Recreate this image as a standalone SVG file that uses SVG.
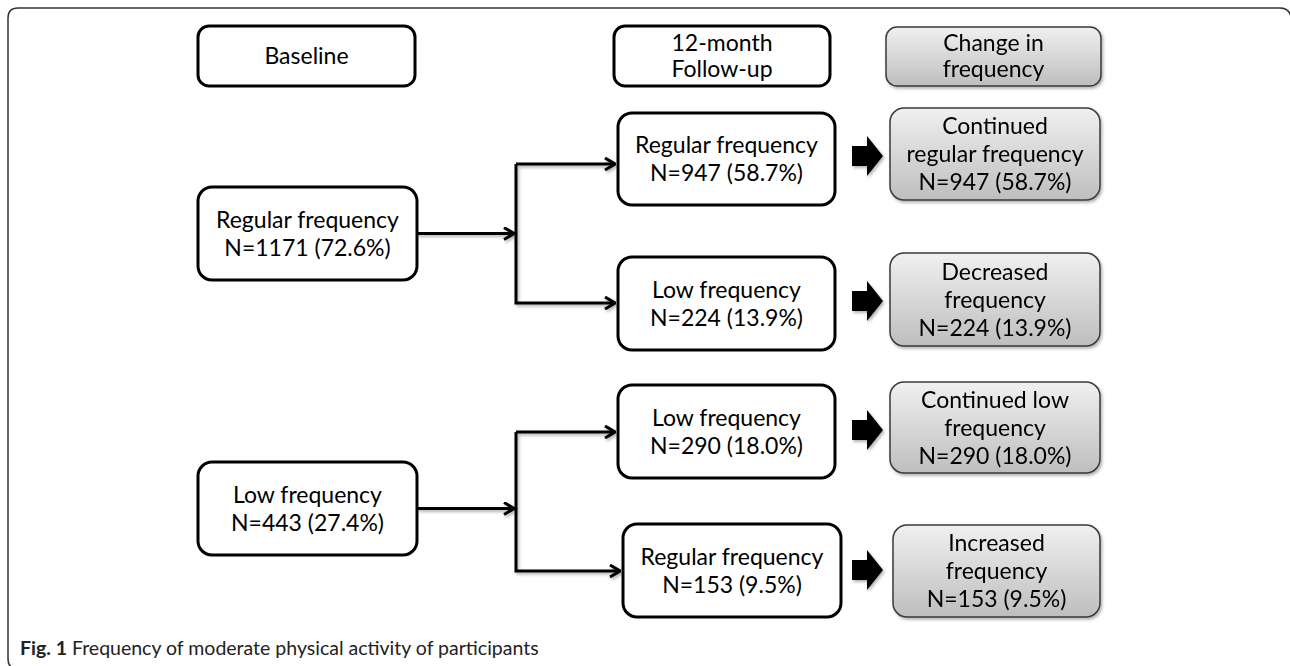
<svg xmlns="http://www.w3.org/2000/svg" width="1290" height="666" viewBox="0 0 1290 666">
<defs>
<linearGradient id="gray" x1="0" y1="0" x2="0" y2="1">
<stop offset="0" stop-color="#f0f0f0"/>
<stop offset="1" stop-color="#bebebe"/>
</linearGradient>
<filter id="sh" x="-10%" y="-10%" width="130%" height="140%">
<feDropShadow dx="1.5" dy="2" stdDeviation="1.5" flood-color="#000" flood-opacity="0.3"/>
</filter>
<marker id="ah" viewBox="0 0 12 14" refX="11" refY="7" markerWidth="12" markerHeight="14" markerUnits="userSpaceOnUse" orient="auto">
<path d="M1,1 L11,7 L1,13" fill="none" stroke="#000" stroke-width="3"/>
</marker>
</defs>
<style>
.frame{fill:none;stroke:#333;stroke-width:1.5}
.wb{fill:#fff;stroke:#000;stroke-width:3}
.gb{fill:url(#gray);stroke:#3a3a3a;stroke-width:1.5}
.t{font-family:Lato,"Open Sans",sans-serif;font-size:23px;fill:#000;text-anchor:middle}
.ln{fill:none;stroke:#000;stroke-width:3}
.blk{fill:#000}
.cap{font-family:Lato,"Liberation Sans",sans-serif;font-size:19.5px;fill:#222}
</style>
<rect width="1290" height="666" fill="#fff"/>
<path class="frame" d="M18,669 Q8,669 8,659 L8,18 Q8,8 18,8 L1280,8 Q1289,8 1291,17"/>

<g id="hdr-baseline"><rect class="wb" x="198" y="26" width="217" height="60" rx="11"/><text class="t" x="306.5" y="64">Baseline</text></g>
<g id="hdr-followup"><rect class="wb" x="614" y="26" width="216" height="60" rx="11"/><text class="t" x="722" y="51">12-month</text><text class="t" x="722" y="77">Follow-up</text></g>
<g id="hdr-change" filter="url(#sh)"><rect class="gb" x="886" y="27" width="215" height="59" rx="11"/><text class="t" x="993.5" y="51">Change in</text><text class="t" x="993.5" y="77">frequency</text></g>

<g id="base-regular"><rect class="wb" x="198" y="187" width="219" height="93" rx="14"/><text class="t" x="307.5" y="227.5">Regular frequency</text><text class="t" x="307.5" y="255.5">N=1171 (72.6%)</text></g>
<g id="base-low"><rect class="wb" x="198" y="462" width="219" height="93" rx="14"/><text class="t" x="307.5" y="502.5">Low frequency</text><text class="t" x="307.5" y="530.5">N=443 (27.4%)</text></g>

<g id="fu-regular-947"><rect class="wb" x="618" y="113" width="217" height="92" rx="14"/><text class="t" x="726.5" y="153">Regular frequency</text><text class="t" x="726.5" y="181">N=947 (58.7%)</text></g>
<g id="fu-low-224"><rect class="wb" x="618" y="257" width="217" height="93" rx="14"/><text class="t" x="726.5" y="297.5">Low frequency</text><text class="t" x="726.5" y="325.5">N=224 (13.9%)</text></g>
<g id="fu-low-290"><rect class="wb" x="618" y="385" width="217" height="93" rx="14"/><text class="t" x="726.5" y="425.5">Low frequency</text><text class="t" x="726.5" y="453.5">N=290 (18.0%)</text></g>
<g id="fu-regular-153"><rect class="wb" x="623" y="524" width="218" height="93" rx="14"/><text class="t" x="732" y="564.5">Regular frequency</text><text class="t" x="732" y="592.5">N=153 (9.5%)</text></g>

<g id="ch-cont-regular" filter="url(#sh)"><rect class="gb" x="890" y="108" width="210" height="92" rx="14"/><text class="t" x="995" y="134">Continued</text><text class="t" x="995" y="162">regular frequency</text><text class="t" x="995" y="190">N=947 (58.7%)</text></g>
<g id="ch-decreased" filter="url(#sh)"><rect class="gb" x="890" y="253" width="210" height="93" rx="14"/><text class="t" x="995" y="279.5">Decreased</text><text class="t" x="995" y="307.5">frequency</text><text class="t" x="995" y="335.5">N=224 (13.9%)</text></g>
<g id="ch-cont-low" filter="url(#sh)"><rect class="gb" x="890" y="382" width="210" height="91" rx="14"/><text class="t" x="995" y="407.5">Continued low</text><text class="t" x="995" y="435.5">frequency</text><text class="t" x="995" y="463.5">N=290 (18.0%)</text></g>
<g id="ch-increased" filter="url(#sh)"><rect class="gb" x="893" y="525" width="207" height="92" rx="14"/><text class="t" x="996.5" y="551">Increased</text><text class="t" x="996.5" y="579">frequency</text><text class="t" x="996.5" y="607">N=153 (9.5%)</text></g>

<g id="connectors" filter="url(#sh)">
<path class="ln" d="M417,233.5 L514,233.5" marker-end="url(#ah)"/>
<path class="ln" d="M516,164 L516,303 L615,303" marker-end="url(#ah)"/>
<path class="ln" d="M516,164 L615,164" marker-end="url(#ah)"/>
<path class="ln" d="M417,508.5 L514,508.5" marker-end="url(#ah)"/>
<path class="ln" d="M516,432 L516,571 L620,571" marker-end="url(#ah)"/>
<path class="ln" d="M516,432 L615,432" marker-end="url(#ah)"/>
<path class="blk" d="M852,146 L867,146 L867,136 L883,156 L867,176 L867,166 L852,166 Z"/>
<path class="blk" d="M852,291 L867,291 L867,281 L883,301 L867,321 L867,311 L852,311 Z"/>
<path class="blk" d="M852,420 L867,420 L867,410 L883,430 L867,450 L867,440 L852,440 Z"/>
<path class="blk" d="M852,560 L867,560 L867,550 L883,570 L867,590 L867,580 L852,580 Z"/>
</g>

<text class="cap" x="20" y="655"><tspan font-weight="bold">Fig. 1</tspan> Frequency of moderate physical activity of participants</text>
</svg>
